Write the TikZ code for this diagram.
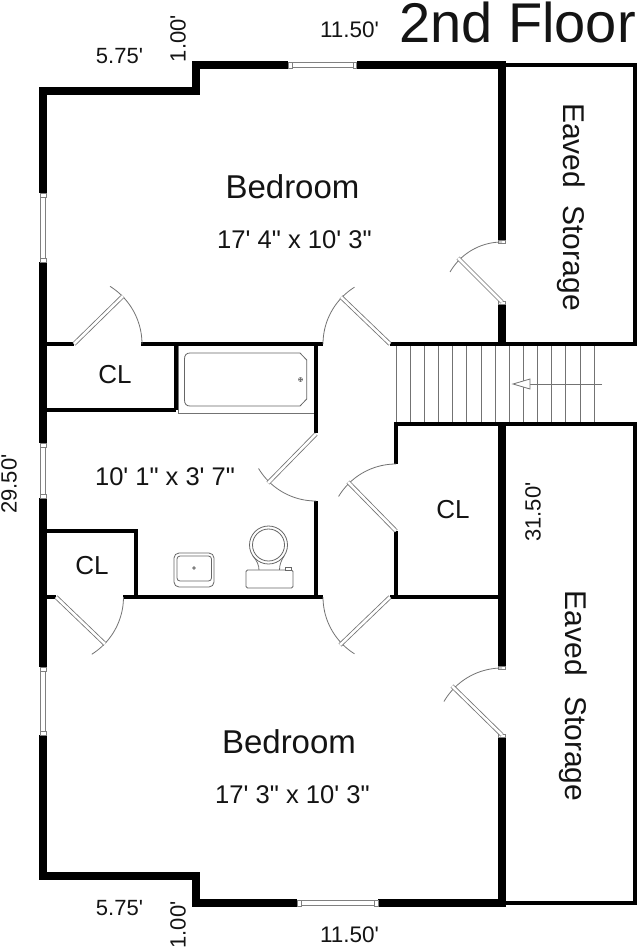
\documentclass[tikz,border=0pt]{standalone}
\usepackage{fontspec}
\newfontfamily\lib{Liberation Sans}
\newcommand{\fs}[1]{\fontsize{#1}{#1}\selectfont\lib}
\tikzset{
  x=1pt,y=-1pt,
  thickwall/.style={line width=7.6pt,black,line cap=butt,line join=miter},
  thinwall/.style={line width=4pt,black,line cap=butt,line join=miter},
  fine/.style={line width=0.8pt,black!55},
  leaf/.style={draw=black!55,double=white,line width=0.8pt,double distance=2.6pt},
  glass/.style={draw=black!50,fill=white,line width=0.9pt},
  fixture/.style={draw=black!60,line width=0.8pt,fill=white},
  lbl/.style={inner sep=0pt,text=black!92}
}
\begin{document}
\begin{tikzpicture}
\useasboundingbox[fill=white] (0,0) rectangle (640,948);
% thin outer eaved storage walls
\draw[thinwall] (502,65) -- (635,65) -- (635,344) -- (390,344);
\draw[thinwall] (502,903) -- (635,903) -- (635,424) -- (396,424) -- (396,464);
\draw[thinwall] (396,531) -- (396,597);
\draw[thinwall] (390,597) -- (500,597);
% interior thin walls
\draw[thinwall] (47,344) -- (74,344);
\draw[thinwall] (141,344) -- (323,344);
\draw[thinwall] (47,597) -- (56,597);
\draw[thinwall] (123,597) -- (323,597);
\draw[thinwall] (47,530.5) -- (136,530.5) -- (136,597);
\draw[thinwall] (47,410) -- (176,410);
\draw[thinwall] (176,344) -- (176,410);
\draw[thinwall] (316,344) -- (316,433);
\draw[thinwall] (316,501) -- (316,597);
% thick walls
\draw[thickwall] (288,65) -- (196,65) -- (196,91) -- (43,91) -- (43,193);
\draw[thickwall] (43,262) -- (43,443);
\draw[thickwall] (43,498) -- (43,667);
\draw[thickwall] (43,735) -- (43,876) -- (196,876) -- (196,903) -- (297,903);
\draw[thickwall] (357,65) -- (502,65) -- (502,243);
\draw[thickwall] (502,302) -- (502,346);
\draw[thickwall] (502,424) -- (502,669);
\draw[thickwall] (502,735) -- (502,903) -- (378,903);
% windows
\foreach \xa/\ya/\xb/\yb in {40.8/194/45.2/261, 40.8/444/45.2/497, 40.8/668/45.2/734, 290/62.8/356/67.2, 299/900.8/377/905.2}
  \draw[glass] (\xa,\ya) rectangle (\xb,\yb);
\foreach \xa/\ya/\xb/\yb in {40/193/46/197, 40/258/46/262, 40/443/46/447, 40/494/46/498, 40/667/46/671, 40/731/46/735, 288.5/62/292/68, 353/62/356.5/68, 297/900/301/906, 374/900/378/906}
  \draw[glass] (\xa,\ya) rectangle (\xb,\yb);
% door jamb caps
\foreach \xa/\ya/\xb/\yb in {498.5/240/505.5/243.5, 498.5/301.5/505.5/304, 498.5/666/505.5/669.5, 498.5/734/505.5/737}
  \draw[glass] (\xa,\ya) rectangle (\xb,\yb);
% doors: hinge, radius, arc range, leaf tip
\foreach \cx/\cy/\r/\a/\b/\lx/\ly in {
  74/344/68/-58/0/123/296,
  390/344/67/180/238/341/297,
  502/302/60/210/270/458/258,
  316/434/67/90/149/268/483,
  396/531/67/211/270/348/482,
  390/597/67/122/180/340/645,
  56/597/67.5/0/58/105/644,
  502/735/67/210/270/452/686}{
  \draw[fine] plot[smooth,domain=\a:\b,samples=24] ({\cx+\r*cos(\x)},{\cy+\r*sin(\x)});
  \draw[leaf] (\cx,\cy) -- (\lx,\ly);
}
% stairs
\foreach \k in {0,...,14}
  \draw[fine] ({396+14.15*\k},346) -- ({396+14.15*\k},422);
\draw[fine] (602,384) -- (530,384);
\draw[fine,fill=white] (530,379) -- (513,384) -- (530,389) -- cycle;
% tub
\draw[fine] (178,346) -- (178,413) -- (314,413);
\draw[fixture] (300,353) -- (306.7,360) -- (306.7,399) -- (300,406) -- (190,406)
  .. controls (186.5,406) and (184.5,404) .. (184.5,400) -- (184.5,359)
  .. controls (184.5,355) and (186.5,353) .. (190,353) -- cycle;
\draw[fine,line width=0.6pt] (300.5,379.5) circle (2);
\draw[fine,line width=0.5pt] (298.5,379.5) -- (302.5,379.5) (300.5,377.5) -- (300.5,381.5);
% sink
\draw[fixture,rounded corners=5pt] (174,553) rectangle (214,587);
\draw[fixture,rounded corners=3pt] (177,556) rectangle (211.5,581);
\draw[fine] (194,568) circle (1.3);
% toilet
\draw[fine] (259,570) .. controls (259,565) and (257,561) .. (253,556);
\draw[fine] (279.5,570) .. controls (279.5,565) and (281,561) .. (284,556);
\draw[fixture] (268.5,545) circle (19);
\draw[fixture] (268.5,545) circle (16);
\draw[fixture,rounded corners=1.5pt] (246,570) rectangle (293,588);
\draw[fixture,line width=0.6pt] (285,567.5) rectangle (291.5,570);
% texts
\node[lbl] (title) at (517.5,22.5) {\fs{56}2nd Floor};
\node[lbl] (bed1) at (292.5,187) {\fs{33}Bedroom};
\node[lbl] (dim1) at (294.5,240) {\fs{25.6}17' 4" x 10' 3"};
\node[lbl] (bed2) at (289,742) {\fs{33}Bedroom};
\node[lbl] (dim2) at (292.5,795) {\fs{25.6}17' 3" x 10' 3"};
\node[lbl] (dim3) at (165,477) {\fs{25.5}10' 1" x 3' 7"};
\node[lbl] (cl1) at (115,375) {\fs{26}CL};
\node[lbl] (cl2) at (92,566) {\fs{26}CL};
\node[lbl] (cl3) at (453,510) {\fs{26}CL};
\node[lbl,rotate=-90] (eave1) at (571,207) {\fs{30}Eaved\hspace{0.3em} Storage};
\node[lbl,rotate=-90] (eave2) at (573,696) {\fs{30}Eaved\hspace{0.4em} Storage};
\node[lbl] (d575a) at (119.5,56) {\fs{22}5.75'};
\node[lbl] (d575b) at (119.5,908) {\fs{22}5.75'};
\node[lbl] (d115a) at (349.5,30) {\fs{22.5}11.50'};
\node[lbl] (d115b) at (349.5,935) {\fs{22.5}11.50'};
\node[lbl,rotate=90] (d100a) at (178,38.5) {\fs{22}1.00'};
\node[lbl,rotate=90] (d100b) at (178,925) {\fs{22}1.00'};
\node[lbl,rotate=90] (d295) at (9,484) {\fs{22}29.50'};
\node[lbl,rotate=90] (d315) at (533,512) {\fs{22}31.50'};
\end{tikzpicture}
\end{document}
